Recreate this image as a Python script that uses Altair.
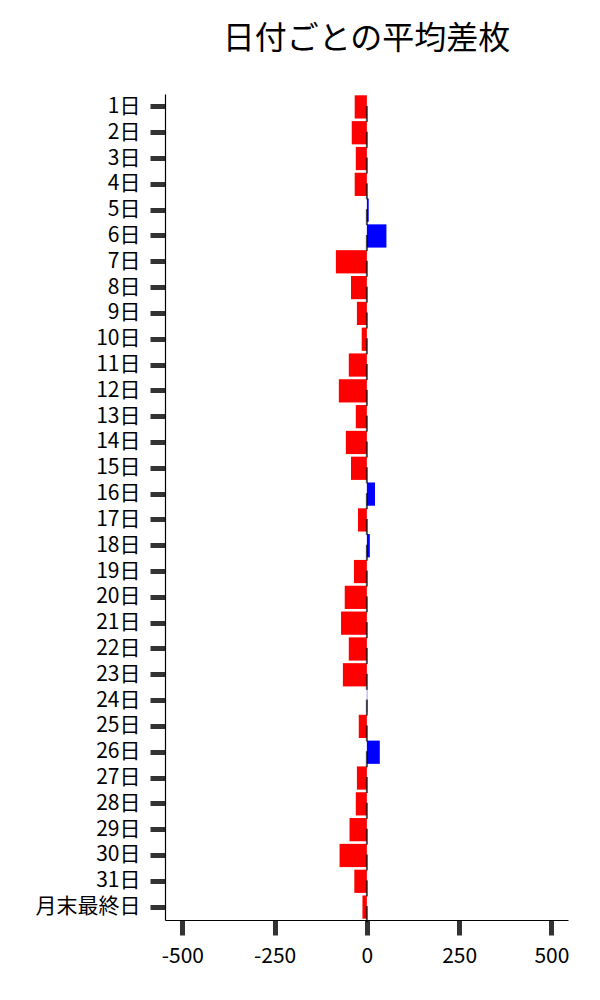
import altair as alt
import pandas as pd

days = ["1日", "2日", "3日", "4日", "5日", "6日", "7日", "8日", "9日", "10日",
        "11日", "12日", "13日", "14日", "15日", "16日", "17日", "18日", "19日", "20日",
        "21日", "22日", "23日", "24日", "25日", "26日", "27日", "28日", "29日", "30日",
        "31日", "月末最終日"]
values = [-33, -41, -30, -33, 5, 53, -84, -43, -27, -14,
          -49, -76, -30, -57, -43, 22, -24, 8, -35, -60,
          -70, -49, -65, 1, -22, 35, -27, -30, -47, -74,
          -34, -12]
x_ticks = [-500, -250, 0, 250, 500]

df = pd.DataFrame({"day": days, "value": values})
df["sign"] = ["pos" if v > 0 else "neg" for v in values]
df["zero"] = 0

FONT = "Noto Sans CJK JP"

y_enc = alt.Y("day:N", sort=days, title=None,
              scale=alt.Scale(paddingInner=0.1, paddingOuter=0.05))
x_scale = alt.Scale(domain=[-547, 545], nice=False, zero=False)

bars = alt.Chart(df).mark_bar().encode(
    y=y_enc,
    x=alt.X("value:Q", scale=x_scale, title=None,
            axis=alt.Axis(values=x_ticks, labelExpr="'' + datum.value")),
    color=alt.Color("sign:N", scale=alt.Scale(domain=["pos", "neg"], range=["#0000FF", "#FF0000"]), legend=None),
)

zero_ticks = alt.Chart(df).mark_tick(color="black", thickness=2, size=16, yOffset=7).encode(
    y=y_enc,
    x=alt.X("zero:Q", scale=x_scale),
)

chart = (bars + zero_ticks).properties(
    width=403, height=826,
    title=alt.TitleParams("日付ごとの平均差枚", font=FONT, fontSize=32, fontWeight="normal",
                          anchor="middle", offset=38, color="black"),
    padding={"left": 27, "top": 15, "right": 5, "bottom": 5},
).configure_view(stroke=None).configure_axis(
    labelFont=FONT, labelFontSize=21, labelColor="black",
    domainColor="black", domainWidth=1.2,
    tickColor="#333333", tickWidth=5, tickSize=15, labelPadding=10,
    grid=False,
)

chart.save("out.html", embed_options={"renderer": "svg", "actions": False})
